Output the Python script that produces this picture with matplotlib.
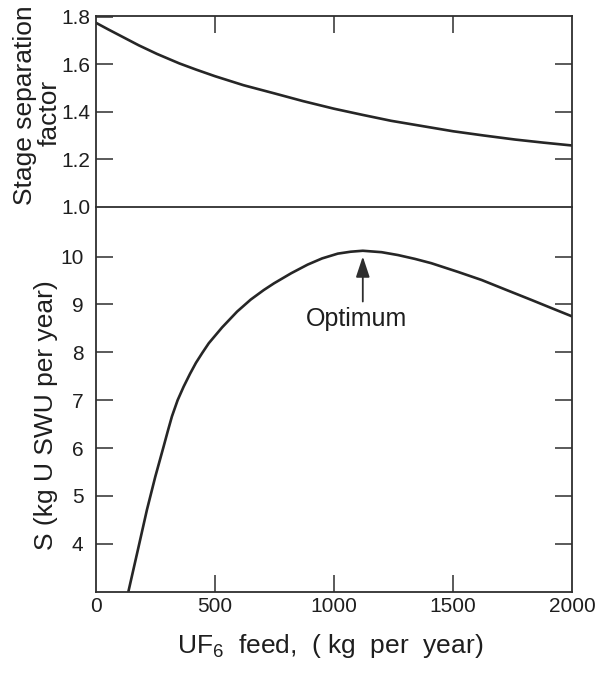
import matplotlib
matplotlib.use("Agg")
import matplotlib.pyplot as plt

# ---- data ----
feed_top = [0, 50, 115, 180, 256, 350, 420, 500, 620, 748, 870, 1000, 1120, 1240,
            1370, 1500, 1630, 1761, 1880, 2000]
alpha = [1.775, 1.748, 1.714, 1.68, 1.644, 1.604, 1.578, 1.55, 1.512, 1.478, 1.445,
         1.413, 1.387, 1.362, 1.34, 1.318, 1.30, 1.283, 1.27, 1.258]

feed_bot = [136, 179, 214, 249, 284, 302, 319, 343, 368, 395, 420, 447, 474, 530, 593,
            650, 705, 748, 820, 889, 950, 1016, 1070, 1121, 1200, 1269, 1340, 1409,
            1520, 1620, 1720, 1831, 1920, 2000]
swu = [3.0, 3.94, 4.71, 5.40, 6.03, 6.36, 6.66, 7.0, 7.28, 7.55, 7.78, 7.99, 8.19, 8.52,
       8.85, 9.10, 9.30, 9.44, 9.65, 9.83, 9.96, 10.06, 10.10, 10.12, 10.09, 10.03, 9.95,
       9.86, 9.68, 9.51, 9.31, 9.09, 8.91, 8.75]

x_ticks = [0, 500, 1000, 1500, 2000]
top_yticks = [1.0, 1.2, 1.4, 1.6, 1.8]
bot_yticks = [4, 5, 6, 7, 8, 9, 10]
opt_x, opt_tip, opt_tail = 1121, 10.0, 9.06
opt_label_x, opt_label_y = 1095, 8.54

plt.rcParams['font.family'] = ['Liberation Sans', 'DejaVu Sans']
plt.rcParams['mathtext.fontset'] = 'custom'
plt.rcParams['mathtext.rm'] = 'Liberation Sans'
plt.rcParams['mathtext.it'] = 'Liberation Sans'
ink = '#1e1e1e'
fs_tick = 15
fs_lab = 19

fig = plt.figure(figsize=(6.05, 6.73), dpi=100)
L, W = 96/605, (572-96)/605
ax1 = fig.add_axes([L, 1-206.7/673, W, (206.7-15.7)/673])
ax2 = fig.add_axes([L, 1-591.7/673, W, (591.7-206.7)/673])

for ax in (ax1, ax2):
    ax.set_xlim(0, 2000)
    for s in ax.spines.values():
        s.set_color('#2e2e2e')
        s.set_linewidth(1.3)
    ax.tick_params(direction='in', length=12.5, width=1.1, color='#2e2e2e',
                   labelsize=fs_tick, labelcolor=ink, left=True, right=True)

ax1.plot(feed_top, alpha, color='#262626', lw=1.9)
ax1.set_ylim(1.0, 1.805)
ax1.set_yticks(top_yticks)
ax1.set_yticklabels([f"{v:.1f}" for v in top_yticks])
ax1.set_xticks(x_ticks[1:-1])
ax1.tick_params(axis='x', top=True, bottom=False, labelbottom=False, labeltop=False)
ax1.tick_params(axis='y', pad=4)
ax1.spines['bottom'].set_visible(False)
yt = ax1.yaxis.get_major_ticks()
yt[0].tick1line.set_visible(False)
yt[0].tick2line.set_visible(False)
yt[-1].tick2line.set_visible(False)

ax2.plot(feed_bot, swu, color='#262626', lw=1.9)
ax2.set_ylim(3, 11.04)
ax2.set_yticks(bot_yticks)
ax2.tick_params(axis='y', pad=9)
ax2.set_xticks(x_ticks)
ax2.set_xticklabels([str(v) for v in x_ticks])
ax2.tick_params(axis='x', top=False, bottom=True, pad=4)
xt = ax2.xaxis.get_major_ticks()
xt[0].tick1line.set_visible(False)
xt[-1].tick1line.set_visible(False)

ax2.annotate('', xy=(opt_x, opt_tip), xytext=(opt_x, opt_tail),
             arrowprops=dict(arrowstyle='-|>,head_length=0.9,head_width=0.3',
                             color='#2e2e2e', lw=1.3, mutation_scale=14,
                             shrinkA=0, shrinkB=0, facecolor='#aaaaaa'))
ax2.text(opt_label_x, opt_label_y, 'Optimum', ha='center', va='baseline',
         fontsize=18, color=ink)

fig.text(32/605, 1-105/673, 'Stage separation', rotation=90, rotation_mode='anchor',
         ha='center', va='baseline', fontsize=fs_lab, color=ink)
fig.text(57/605, 1-113/673, 'factor', rotation=90, rotation_mode='anchor',
         ha='center', va='baseline', fontsize=fs_lab, color=ink)
fig.text(53/605, 1-415/673, 'S (kg U SWU per year)', rotation=90, rotation_mode='anchor',
         ha='center', va='baseline', fontsize=fs_lab, color=ink)
fig.text(330/605, 1-653/673, 'UF$_6$  feed,  ( kg  per  year)',
         ha='center', va='baseline', fontsize=fs_lab, color=ink)

fig.savefig('out.png', dpi=100)
